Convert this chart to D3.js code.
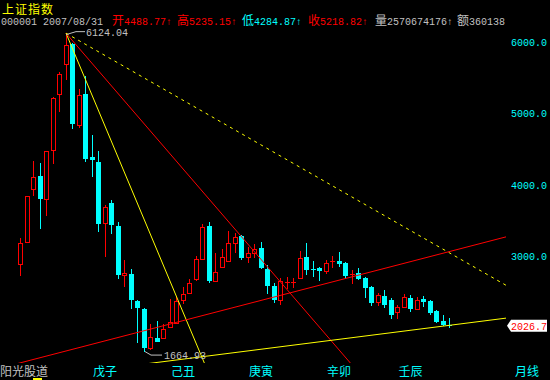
<!DOCTYPE html>
<html><head><meta charset="utf-8">
<script src="https://cdn.jsdelivr.net/npm/d3@7"></script>
<style>
html,body{margin:0;padding:0;background:#000;}
svg{display:block;}
</style></head><body>
<svg id="c" width="550" height="380"></svg>
<script>
// ---------------- data ----------------
const months = [
"2007/03","2007/04","2007/05","2007/06","2007/07","2007/08","2007/09","2007/10","2007/11","2007/12",
"2008/01","2008/02","2008/03","2008/04","2008/05","2008/06","2008/07","2008/08","2008/09","2008/10",
"2008/11","2008/12","2009/01","2009/02","2009/03","2009/04","2009/05","2009/06","2009/07","2009/08",
"2009/09","2009/10","2009/11","2009/12","2010/01","2010/02","2010/03","2010/04","2010/05","2010/06",
"2010/07","2010/08","2010/09","2010/10","2010/11","2010/12","2011/01","2011/02","2011/03","2011/04",
"2011/05","2011/06","2011/07","2011/08","2011/09","2011/10","2011/11","2011/12","2012/01","2012/02",
"2012/03","2012/04","2012/05","2012/06","2012/07","2012/08","2012/09"];
const openV = [
2882,3199,3943,4121,3798,4488.77,5267,5687,5975,4836,
5271,4391,4321,3457,3742,3419,2733,2742,2367,2260,
1704,1853,1844,2007,2063,2375,2484,2672,2952,3424,
2648,2840,2933,3185,3280,2980,3045,3107,2816,2582,
2381,2637,2628,2686,2980,2818,2835,2793,2915,2928,
2896,2740,2756,2694,2568,2350,2438,2381,2217,2288,
2413,2251,2395,2367,2227,2087,2028];
const highV = [
3255,3845,4331,4299,4475,5235.15,5583,6124.04,5990,5337,
5523,4696,4471,3720,3784,3475,2943,2816,2375,2265,
2045,2087,2045,2400,2420,2566,2676,2999,3447,3475,
3045,3090,3350,3325,3295,3129,3170,3190,2873,2615,
2686,2700,2690,3069,3177,2928,2849,2943,3000,3059,
2910,2802,2826,2708,2580,2476,2522,2405,2311,2461,
2452,2428,2442,2381,2240,2171,2125];
const lowV = [
2720,3195,3840,3396,3564,4284.87,5022,5467,4794,4790,
4331,4121,3349,2989,3325,2694,2566,2274,1797,1664.93,
1678,1811,1840,1989,2040,2330,2460,2650,2940,2638,
2630,2830,2920,3036,2960,2905,2970,2826,2476,2350,
2311,2545,2570,2680,2742,2718,2655,2742,2840,2863,
2690,2616,2676,2428,2307,2302,2288,2125,2115,2265,
2227,2240,2297,2181,2070,2032,2003];
const closeV = [
3177,3840,4103,3816,4471,5218.82,5547,5958,4868,5257,
4377,4355,3466,3690,3447,2742,2765,2391,2288,1727,
1867,1813,1975,2073,2372,2470,2616,2952,3401,2662,
2774,2980,3177,3261,2985,3036,3092,2849,2592,2391,
2648,2640,2635,2966,2816,2810,2800,2896,2925,2898,
2732,2752,2694,2568,2350,2452,2321,2185,2279,2419,
2265,2381,2372,2218,2091,2040,2026.7];

const yTicks = [6000, 5000, 4000, 3000];
const yearLabels = ["戊子","己丑","庚寅","辛卯","壬辰"];
const yearLabelMonths = ["2008/04","2009/04","2010/04","2011/04","2012/03"];
const headerName = "上证指数";
const headerCode = "000001";
const headerDate = "2007/08/31";
const headerIndex = 5;           // month shown in header
const headerVol = "2570674176";
const headerAmt = "360138";
const lastPrice = 2026.7;
const peakIndex = 7, peakValue = 6124.04;
const lowIndex = 19, lowValue = 1664.93;
// trend lines: two anchor points (month index, value)
const lineA = [[7, 6124.04], [27.88, 1586]];   // yellow solid, steep fan
const lineB = [[7, 6124.04], [46, 2000]];      // red solid, fan
const lineC = [[7, 6124.04], [67, 2990]];      // yellow dashed, fan
const lineD = [[8, 1690], [67, 3085]];         // red solid, ascending
const lineE = [[27.6, 1582], [67.6, 2045]];    // yellow solid, ascending support

// ---------------- drawing ----------------
const RED = "#ff0000", CYAN = "#00ffff", YEL = "#ffff00", GRAY = "#c0c0c0";
const CJK = "'Noto Sans CJK SC'";
const MONO = "'Liberation Mono','DejaVu Sans Mono',monospace";
const svg = d3.select("#c");
svg.append("rect").attr("width", 550).attr("height", 380).attr("fill", "#000");

const plotRight = 506, plotBottom = 363;
const defs = svg.append("defs");
defs.append("clipPath").attr("id", "plotClip").append("rect")
  .attr("x", 0).attr("y", 0).attr("width", plotRight).attr("height", plotBottom);
defs.append("clipPath").attr("id", "hdrClip").append("rect")
  .attr("x", 0).attr("y", 0).attr("width", plotRight).attr("height", 40);

const xp = d3.scalePoint().domain(months).range([20.5, 20.5 + (months.length - 1) * 6.5]);
const xi = d3.scaleLinear().domain([0, months.length - 1]).range([20.5, 20.5 + (months.length - 1) * 6.5]);
const y = d3.scaleLinear().domain([6000, 2000]).range([42, 42 + 4000 * 0.0713]);

function mtext(g, x, yy, s, color, opts = {}) {
  const t = g.append("text").attr("x", x).attr("y", yy).attr("fill", color)
    .attr("xml:space", "preserve");
  const runs = s.match(/[\u3000-\u9fff]+|[^\u3000-\u9fff]+/g) || [];
  runs.forEach(r => {
    const isCjk = /[\u3000-\u9fff]/.test(r);
    t.append("tspan")
      .attr("font-family", isCjk ? CJK : MONO)
      .attr("font-size", isCjk ? (opts.cjk || 12) : (opts.ascii || 10))
      .text(r);
  });
  return t;
}

// candles
const cg = svg.append("g").attr("clip-path", "url(#plotClip)");
const data = months.map((m, i) => ({m, o: openV[i], h: highV[i], l: lowV[i], c: closeV[i]}));
data.forEach(d => {
  const left = Math.round(xp(d.m) - 2.5);
  const cx = left + 2.5;
  const up = d.c >= d.o;
  const col = up ? RED : CYAN;
  const yt = Math.round(y(Math.max(d.o, d.c)));
  const yb = Math.round(y(Math.min(d.o, d.c)));
  const yh = Math.round(y(d.h));
  const yl = Math.round(y(d.l));
  if (up && yb - yt >= 2) {
    cg.append("line").attr("x1", cx).attr("x2", cx).attr("y1", yh).attr("y2", yt)
      .attr("stroke", col).attr("stroke-width", 1);
    cg.append("line").attr("x1", cx).attr("x2", cx).attr("y1", yb + 1).attr("y2", yl)
      .attr("stroke", col).attr("stroke-width", 1);
    cg.append("rect").attr("x", left + 0.5).attr("y", yt + 0.5)
      .attr("width", 4).attr("height", yb - yt)
      .attr("fill", "none").attr("stroke", col).attr("stroke-width", 1);
  } else {
    cg.append("line").attr("x1", cx).attr("x2", cx).attr("y1", yh).attr("y2", yl + 1)
      .attr("stroke", col).attr("stroke-width", 1);
    cg.append("rect").attr("x", left).attr("y", yt)
      .attr("width", 5).attr("height", Math.max(1, yb - yt + (yb - yt >= 2 ? 1 : 0)))
      .attr("fill", col);
  }
});

// trend lines
const lg = svg.append("g").attr("clip-path", "url(#plotClip)");
function drawLine(pts, color, dash, extendBack) {
  const x1 = xi(pts[0][0]), y1 = y(pts[0][1]);
  const x2 = xi(pts[1][0]), y2 = y(pts[1][1]);
  const dx = x2 - x1, dy = y2 - y1;
  const len = Math.hypot(dx, dy);
  const ux = dx / len, uy = dy / len;
  const back = extendBack ? 1000 : 0;
  lg.append("line")
    .attr("x1", x1 - ux * back).attr("y1", y1 - uy * back)
    .attr("x2", x1 + ux * 1000).attr("y2", y1 + uy * 1000)
    .attr("stroke", color).attr("stroke-width", 1)
    .attr("stroke-dasharray", dash || null);
}
drawLine(lineA, YEL, null, false);
drawLine(lineB, RED, null, false);
drawLine(lineC, YEL, "3,4", false);
drawLine(lineD, RED, null, true);
drawLine(lineE, YEL, null, true);

// peak / low labels
const pkx = xi(peakIndex), pky = y(peakValue);
svg.append("polyline")
  .attr("points", [[pkx, pky + 1.5], [pkx + 10, pky - 1.5], [pkx + 19, pky - 1.5]].join(" "))
  .attr("fill", "none").attr("stroke", GRAY).attr("stroke-width", 1);
mtext(svg, pkx + 20, pky + 2.5, d3.format(".2f")(peakValue), GRAY);
const lwx = xi(lowIndex), lwy = y(lowValue);
svg.append("polyline")
  .attr("points", [[lwx + 1, lwy + 0.5], [lwx + 7, lwy + 4], [lwx + 18, lwy + 4]].join(" "))
  .attr("fill", "none").attr("stroke", GRAY).attr("stroke-width", 1);
mtext(svg, lwx + 20, lwy + 8, d3.format(".2f")(lowValue), GRAY);

// header
mtext(svg, 2, 13.5, headerName, YEL, {cjk: 12}).selectAll("tspan").attr("letter-spacing", 1);
const hg = svg.append("g").attr("clip-path", "url(#hdrClip)");
const f2 = d3.format(".2f");
mtext(hg, 1, 25, headerCode + " " + headerDate, GRAY);
mtext(hg, 112, 25, "开" + f2(openV[headerIndex]) + "↑", RED);
mtext(hg, 177, 25, "高" + f2(highV[headerIndex]) + "↑", RED);
mtext(hg, 242, 25, "低" + f2(lowV[headerIndex]) + "↑", CYAN);
mtext(hg, 308, 25, "收" + f2(closeV[headerIndex]) + "↑", RED);
mtext(hg, 375, 25, "量" + headerVol + "↑", GRAY);
mtext(hg, 457, 25, "额" + headerAmt, GRAY);

// right axis
yTicks.forEach(v => {
  mtext(svg, 511, y(v) + 4, d3.format(".1f")(v), CYAN);
});
const ly = y(lastPrice);
svg.append("polygon")
  .attr("points", [[507, ly + 0.5], [511, ly - 5.5], [547, ly - 5.5], [547, ly + 6.5], [511, ly + 6.5]].join(" "))
  .attr("fill", "#ffffff");
mtext(svg, 511, ly + 4.5, d3.format(".1f")(lastPrice), RED);

// bottom axis
mtext(svg, 0, 376, "阳光股道", GRAY);
yearLabels.forEach((t, i) => {
  mtext(svg, xp(yearLabelMonths[i]), 376, t, CYAN).attr("text-anchor", "middle");
});
mtext(svg, 515, 376, "月线", CYAN);
svg.append("rect").attr("x", 33).attr("y", 378).attr("width", 9).attr("height", 2).attr("fill", YEL);
</script>
</body></html>
